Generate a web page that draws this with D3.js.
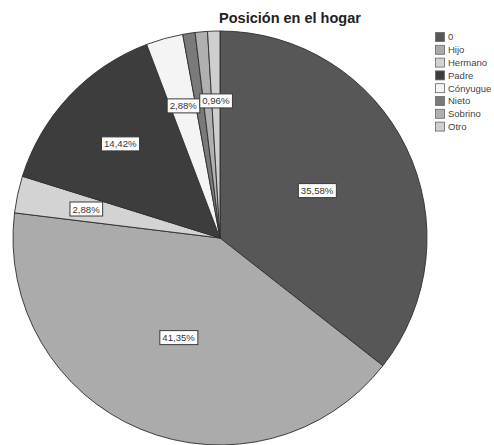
<!DOCTYPE html>
<html>
<head>
<meta charset="utf-8">
<script src="https://cdn.jsdelivr.net/npm/d3@7"></script>
<style>
  html, body { margin: 0; padding: 0; background: #fff; }
  svg { display: block; }
</style>
</head>
<body>
<svg id="chart" width="494" height="445"></svg>
<script>
// Posición en el hogar — share of respondents by household role
const categories = ["0", "Hijo", "Hermano", "Padre", "Cónyugue", "Nieto", "Sobrino", "Otro"];
const percents   = [35.58, 41.35, 2.88, 14.42, 2.88, 0.96, 0.96, 0.96];
const colors     = ["#575757", "#ababab", "#d3d3d3", "#3d3d3d", "#f4f4f4", "#7a7a7a", "#b0b0b0", "#cfcfcf"];
// slices whose percentage label is drawn
const labelled   = ["0", "Hijo", "Hermano", "Padre", "Cónyugue", "Otro"];

const data = categories.map((c, i) => ({ cat: c, value: percents[i], color: colors[i] }));

const svg = d3.select("#chart");
const cx = 220, cy = 238, R = 207;

const pie = d3.pie().sort(null).value(d => d.value);
const arc = d3.arc().innerRadius(0).outerRadius(R);
const arcs = pie(data);

const g = svg.append("g").attr("transform", `translate(${cx},${cy})`);

g.selectAll("path.slice")
  .data(arcs)
  .join("path")
  .attr("class", "slice")
  .attr("d", arc)
  .attr("fill", d => d.data.color)
  .attr("stroke", "#2e2e2e")
  .attr("stroke-width", 0.9)
  .attr("stroke-linejoin", "round");

// labels: large slices nearer the centre, thin slices further out
const fmt = v => v.toFixed(2).replace(".", ",") + "%";
const labelArc = d => {
  const r = d.data.value > 30 ? 108 : 137;
  return d3.arc().innerRadius(r).outerRadius(r).centroid(d);
};

const lab = g.selectAll("g.lab")
  .data(arcs.filter(d => labelled.includes(d.data.cat)))
  .join("g")
  .attr("class", "lab")
  .attr("transform", d => `translate(${labelArc(d)})`);

lab.append("text")
  .attr("text-anchor", "middle")
  .attr("dy", "0.35em")
  .attr("font-family", "Liberation Sans, Arial, sans-serif")
  .attr("font-size", 9.6)
  .attr("fill", "#333")
  .text(d => fmt(d.data.value));

lab.each(function() {
  const t = d3.select(this).select("text");
  const b = t.node().getBBox();
  d3.select(this).insert("rect", "text")
    .attr("x", b.x - 2.5)
    .attr("y", b.y - 1.5)
    .attr("width", b.width + 5)
    .attr("height", b.height + 3)
    .attr("fill", "#fff")
    .attr("stroke", "#3a3a3a")
    .attr("stroke-width", 1);
});

// title
svg.append("text")
  .attr("x", 290)
  .attr("y", 23)
  .attr("text-anchor", "middle")
  .attr("font-family", "Liberation Sans, Arial, sans-serif")
  .attr("font-weight", "bold")
  .attr("font-size", 14.5)
  .attr("fill", "#222")
  .text("Posición en el hogar");

// legend
const legend = svg.append("g").attr("transform", "translate(435,32)");
const rowH = 12.8;
const item = legend.selectAll("g.item")
  .data(data)
  .join("g")
  .attr("class", "item")
  .attr("transform", (d, i) => `translate(0,${i * rowH})`);

item.append("rect")
  .attr("x", 0.5)
  .attr("y", 0.5)
  .attr("width", 9)
  .attr("height", 9)
  .attr("fill", d => d.color)
  .attr("stroke", "#666")
  .attr("stroke-width", 0.8);

item.append("text")
  .attr("x", 13)
  .attr("y", 5)
  .attr("dy", "0.35em")
  .attr("font-family", "Liberation Sans, Arial, sans-serif")
  .attr("font-size", 9.5)
  .attr("fill", "#444")
  .text(d => d.cat);
</script>
</body>
</html>
